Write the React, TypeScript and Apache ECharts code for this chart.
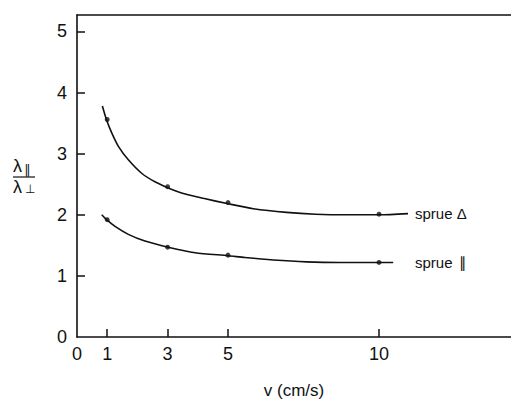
import React, { useEffect, useRef } from "react";
import * as echarts from "echarts";

// Fitted curve points: [v, ratio]
const upperCurve: [number, number][] = [
  [0.84, 3.78], [0.98, 3.55], [1.15, 3.34], [1.37, 3.12], [1.7, 2.9],
  [2.14, 2.68], [2.58, 2.54], [3.02, 2.44], [3.52, 2.35], [4.18, 2.27],
  [5.01, 2.18], [5.84, 2.1], [6.94, 2.04], [7.9, 2.01], [8.9, 2.0],
  [10.0, 2.0], [10.96, 2.02],
];
const lowerCurve: [number, number][] = [
  [0.82, 2.0], [0.98, 1.92], [1.26, 1.81], [1.7, 1.68], [2.25, 1.57],
  [3.02, 1.47], [3.91, 1.38], [5.01, 1.33], [5.56, 1.3], [6.5, 1.26],
  [7.6, 1.23], [8.7, 1.22], [10.03, 1.22], [10.47, 1.22],
];
// Measured points
const upperPoints: [number, number][] = [[1, 3.56], [3, 2.46], [5, 2.2], [10, 2.01]];
const lowerPoints: [number, number][] = [[1, 1.92], [3, 1.47], [5, 1.34], [10, 1.22]];

const xLabelValues = [0, 1, 3, 5, 10];
const xTickValues = [1, 3, 5, 10];
const yLabelValues = [0, 1, 2, 3, 4, 5];
const yTickValues = [1, 2, 3, 4, 5];

const seriesNames = ["sprue Δ", "sprue ∥"];

const FONT = "'Liberation Sans', Arial, Helvetica, sans-serif";

export default function App() {
  const ref = useRef<HTMLDivElement>(null);
  useEffect(() => {
    if (!ref.current) return;
    const chart = echarts.init(ref.current, undefined, { renderer: "svg" });
    const black = "#111";
    chart.setOption({
      animation: false,
      backgroundColor: "#fff",
      grid: { left: 77, top: 15, right: 0, bottom: 62, outerBoundsMode: "none", containLabel: false },
      xAxis: [
        {
          type: "value",
          min: 0,
          max: 14.37,
          name: "v (cm/s)",
          nameLocation: "middle",
          nameGap: 45,
          nameTextStyle: { fontFamily: FONT, fontSize: 17, color: black },
          axisLine: { show: true, onZero: false, lineStyle: { color: black, width: 1.6 } },
          axisTick: { show: true, inside: true, length: 8, customValues: xTickValues, lineStyle: { color: black, width: 1.5 } },
          axisLabel: { show: true, customValues: xLabelValues, margin: 8, fontFamily: FONT, fontSize: 18, color: black },
          splitLine: { show: false },
        },
        {
          type: "value",
          position: "top",
          min: 0,
          max: 14.37,
          axisLine: { show: true, onZero: false, lineStyle: { color: black, width: 1.6 } },
          axisTick: { show: false },
          axisLabel: { show: false },
          splitLine: { show: false },
        },
      ],
      yAxis: {
        type: "value",
        min: 0,
        max: 5.27,
        axisLine: { show: true, onZero: false, lineStyle: { color: black, width: 1.6 } },
        axisTick: { show: true, inside: true, length: 8, customValues: yTickValues, lineStyle: { color: black, width: 1.5 } },
        axisLabel: { show: true, customValues: yLabelValues, margin: 10, fontFamily: FONT, fontSize: 18, color: black },
        splitLine: { show: false },
      },
      series: [
        {
          name: seriesNames[0],
          type: "line",
          data: upperCurve,
          smooth: 0.25,
          showSymbol: false,
          lineStyle: { color: black, width: 1.6 },
          endLabel: {
            show: true,
            formatter: seriesNames[0],
            fontFamily: FONT,
            fontSize: 15,
            color: black,
            distance: 7,
          },
        },
        {
          name: seriesNames[1],
          type: "line",
          data: lowerCurve,
          smooth: 0.25,
          showSymbol: false,
          lineStyle: { color: black, width: 1.6 },
        },
        {
          type: "scatter",
          data: upperPoints,
          symbol: "circle",
          symbolSize: 5,
          itemStyle: { color: black },
        },
        {
          type: "scatter",
          data: lowerPoints,
          symbol: "circle",
          symbolSize: 5,
          itemStyle: { color: black },
        },
      ],
      graphic: [
        {
          type: "text",
          left: 415,
          top: 255,
          style: {
            text: "sprue",
            fontFamily: FONT,
            fontSize: 15,
            fill: black,
          },
        },
        {
          type: "text",
          left: 459,
          top: 255,
          style: {
            text: "∥",
            fontFamily: "'DejaVu Sans', sans-serif",
            fontStyle: "italic",
            fontSize: 15,
            fill: black,
          },
        },
        {
          type: "text",
          left: 13,
          top: 157,
          style: { text: "λ", fontFamily: FONT, fontSize: 18, fill: black },
        },
        {
          type: "text",
          left: 24,
          top: 163,
          style: { text: "∥", fontFamily: "'DejaVu Sans', sans-serif", fontStyle: "italic", fontSize: 13, fill: black },
        },
        {
          type: "line",
          shape: { x1: 13, y1: 177, x2: 35, y2: 177 },
          style: { stroke: black, lineWidth: 1.2 },
        },
        {
          type: "text",
          left: 13,
          top: 178,
          style: { text: "λ", fontFamily: FONT, fontSize: 18, fill: black },
        },
        {
          type: "text",
          left: 25,
          top: 183,
          style: { text: "⊥", fontFamily: "'DejaVu Sans', sans-serif", fontSize: 12, fill: black },
        },
      ],
    });
    return () => chart.dispose();
  }, []);
  return <div ref={ref} style={{ width: 511, height: 399, position: "absolute", left: 0, top: 0 }} />;
}
